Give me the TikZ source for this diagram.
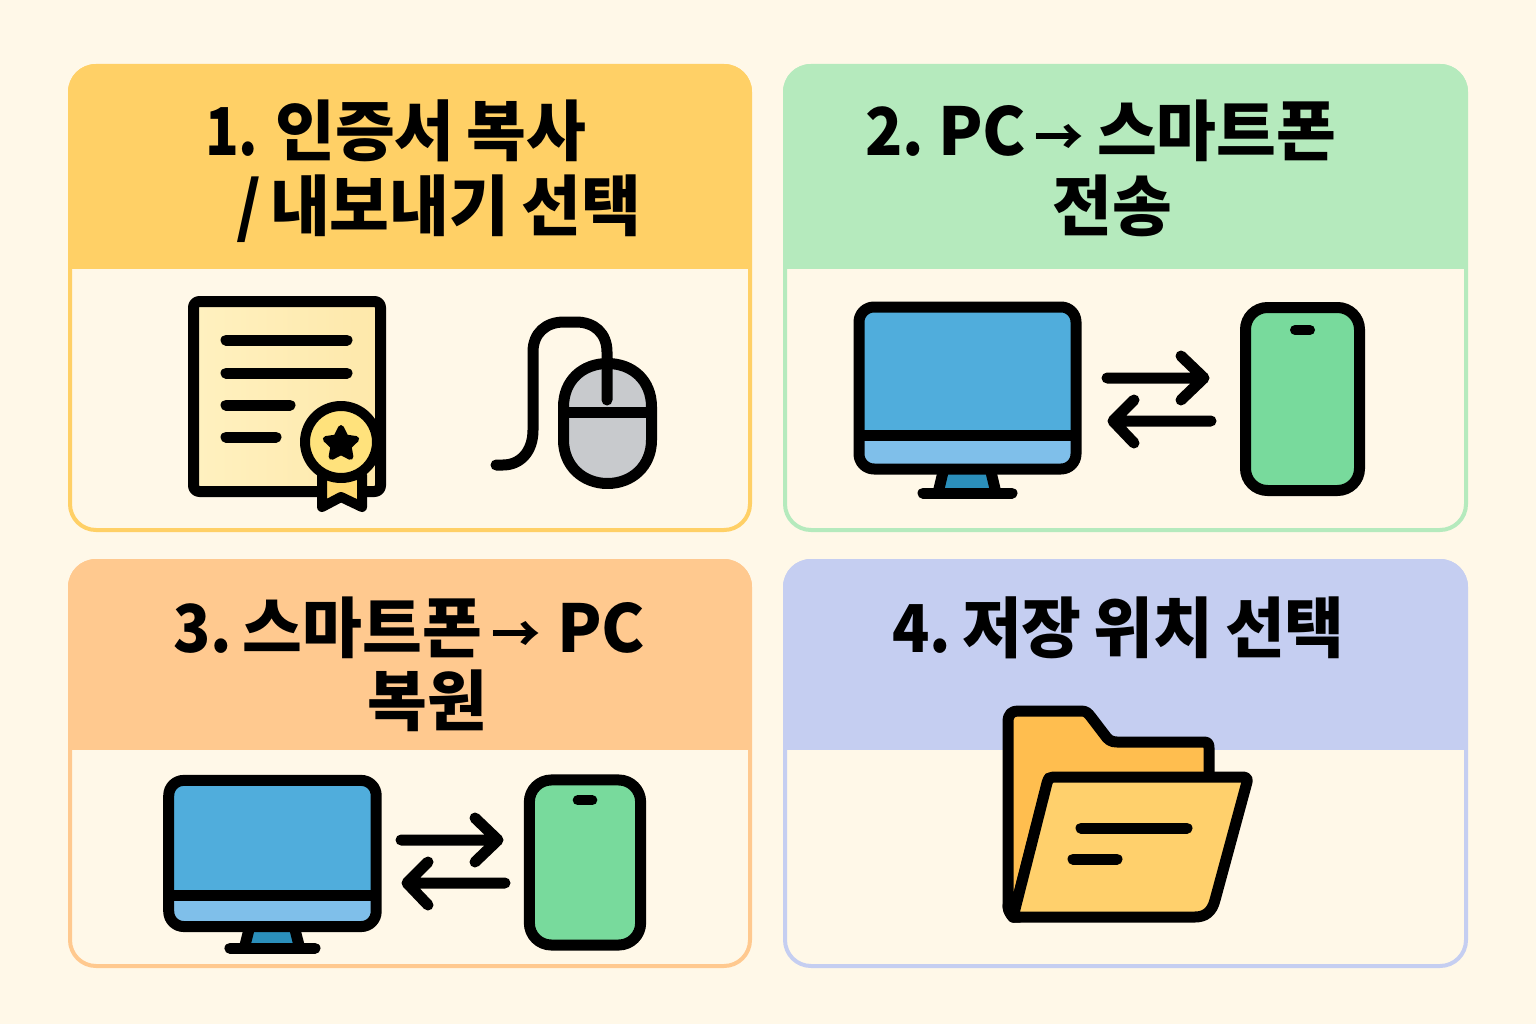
\documentclass[tikz,border=0pt]{standalone}
\usepackage{fontspec}
\newfontfamily\krfont[FakeStretch=0.985,WordSpace=0.8]{Noto Sans CJK KR Black}
\newfontfamily\numfont[FakeStretch=0.84,WordSpace=0.8]{Noto Sans CJK KR Black}
\newfontfamily\numwide[FakeStretch=0.93,WordSpace=0.65]{Noto Sans CJK KR Black}
\definecolor{bg}{HTML}{FFF8E8}
\definecolor{hyellow}{HTML}{FFD066}
\definecolor{hgreen}{HTML}{B5EABD}
\definecolor{horange}{HTML}{FFC98F}
\definecolor{hblue}{HTML}{C5CEF1}
\definecolor{screenblue}{HTML}{50ADDC}
\definecolor{lowerblue}{HTML}{7FBFEA}
\definecolor{standblue}{HTML}{2B8FBB}
\definecolor{phonegreen}{HTML}{78DA9C}
\definecolor{mousegray}{HTML}{C8CACD}
\definecolor{folderback}{HTML}{FFBE4F}
\definecolor{folderfront}{HTML}{FFD06C}
\definecolor{certa}{HTML}{FFF1C0}
\definecolor{certb}{HTML}{FEE8AA}
\definecolor{sealfill}{HTML}{FFE27C}
\definecolor{ribbon}{HTML}{FFD970}
\newcommand{\tarrow}{\kern-3pt{\fontsize{50pt}{50pt}\selectfont →}\kern1pt}
\tikzset{
  ink/.style={draw=black,line width=11pt,line cap=round,line join=round},
  title/.style={anchor=base west,inner sep=0pt,font=\krfont\fontsize{66pt}{66pt}\selectfont,text=black},
}
\newcommand{\cardpanel}[6]{%
  \fill[bg,rounded corners=28pt] (#1,#2) rectangle (#3,#4);
  \begin{scope}
    \clip[rounded corners=28pt] (#1,#2) rectangle (#3,#4);
    \fill[#6] (#1,#2) rectangle (#3,#5);
  \end{scope}
  \draw[#6,line width=4pt,rounded corners=26pt] (#1+2,#2+2) rectangle (#3-2,#4-2);
}
\newcommand{\monitorico}{%
  \fill[screenblue,rounded corners=10pt] (859,307) rectangle (1076,440);
  \fill[lowerblue,rounded corners=10pt] (859,430) rectangle (1076,469);
  \fill[standblue] (943,472) -- (991,472) -- (996,493) -- (938,493) -- cycle;
  \draw[ink,line cap=butt] (943,472) -- (938,493) (991,472) -- (996,493);
  \draw[ink,line cap=butt] (859,435) -- (1076,435);
  \draw[ink,rounded corners=15pt] (859,307) rectangle (1076,469);
  \draw[ink] (923,493) -- (1012,493);
}
\newcommand{\phoneico}{%
  \draw[ink,fill=phonegreen,rounded corners=22pt] (1245.5,307.5) rectangle (1359.5,490.5);
  \draw[ink,line width=10pt] (1295,330) -- (1310,330);
}
\newcommand{\arrowsico}{%
  \draw[ink] (1107,378) -- (1203,378) (1181,356) -- (1204,378) -- (1181,400);
  \draw[ink] (1211,421) -- (1115,421) (1134,400) -- (1113,421) -- (1134,443);
}
\begin{document}
\begin{tikzpicture}[x=1pt,y=-1pt]
\useasboundingbox (0,0) rectangle (1536,1024);
\fill[bg] (0,0) rectangle (1536,1024);
\cardpanel{68}{64}{752}{532}{269}{hyellow}
\cardpanel{783}{64}{1468}{532}{269}{hgreen}
\cardpanel{68}{559}{752}{968}{750}{horange}
\cardpanel{783}{559}{1468}{968}{750}{hblue}
% titles
\node[title] (t1a) at (205,156) {{\numfont 1.} 인증서 복사};
\node[title] (t1b) at (236,231) {/\kern-3pt{} 내보내기 선택};
\node[title] (t2a) at (865,156) {{\numwide 2.}\kern-3pt{} PC \tarrow{} 스마트폰};
\node[title] (t2b) at (1052,231) {전송};
\node[title] (t3a) at (173,652) {{\numwide 3.}\kern-6pt{} 스마트폰 \tarrow{}\kern4pt{} PC};
\node[title] (t3b) at (367,725) {복원};
\node[title] (t4a) at (892,652) {{\numwide 4.}\kern-6pt{} 저장 위치 선택};
% certificate
\draw[ink,left color=certa,right color=certb,rounded corners=6pt] (193.5,301.5) rectangle (380.5,491.5);
\draw[ink] (226,340) -- (347,340);
\draw[ink] (226,373) -- (347,373);
\draw[ink] (226,405) -- (290,405);
\draw[ink] (226,437) -- (276,437);
\draw[ink,fill=ribbon,line width=10pt] (322,475) -- (322,507) -- (341,497) -- (362,507) -- (362,475) -- cycle;
\draw[ink,fill=sealfill,line width=10pt] (341,442) circle[radius=36pt];
\fill[black,draw=black,line width=6pt,line join=round,shift={(341,444)}]
  (0,-16) -- (4.7,-6.5) -- (15.2,-4.9) -- (7.6,2.5) -- (9.4,12.9) -- (0,8)
  -- (-9.4,12.9) -- (-7.6,2.5) -- (-15.2,-4.9) -- (-4.7,-6.5) -- cycle;
% mouse
\draw[ink,fill=mousegray] (563.5,407) .. controls (563.5,380) and (583,363.5) .. (607.5,363.5)
  .. controls (632,363.5) and (651.5,380) .. (651.5,407) -- (651.5,440)
  .. controls (651.5,466) and (632,483.5) .. (607.5,483.5)
  .. controls (583,483.5) and (563.5,466) .. (563.5,440) -- cycle;
\draw[ink,line cap=butt] (563.5,412) -- (651.5,412);
\draw[ink] (607,400) -- (607,352) .. controls (607,333) and (594,322) .. (576,322) -- (564,322)
  .. controls (546,322) and (533,333) .. (533,352) -- (533,430)
  .. controls (533,452) and (520,465) .. (503,465) -- (496,465);
% panel 2 icons
\monitorico
\arrowsico
\phoneico
% panel 3 icons
\begin{scope}[shift={(163,775)},xscale=0.956,yscale=0.902,shift={(-853,-301)}]
  \monitorico
\end{scope}
\begin{scope}[shift={(-706,462)}]
  \arrowsico
\end{scope}
\begin{scope}[shift={(524,775)},xscale=0.976,yscale=0.902,shift={(-1240,-302)}]
  \phoneico
\end{scope}
% folder
\draw[ink,fill=folderback] (1008,905) -- (1008,722) .. controls (1008,714) and (1012,711) .. (1018,711)
  -- (1081,711) .. controls (1086,711) and (1088,713) .. (1091,717) -- (1104,734)
  .. controls (1108,740) and (1111,742) .. (1117,742) -- (1204,742) .. controls (1208,742) and (1209,744) .. (1209,748) -- (1209,778) -- (1049,778) -- (1013,917)
  .. controls (1011,915) and (1008,911) .. (1008,905) -- cycle;
\draw[ink,fill=black,line join=round] (1008,905) .. controls (1008,913) and (1012,917) .. (1020,917) -- (1013,917) -- cycle;
\draw[ink,fill=folderfront] (1053,777) -- (1243,777) .. controls (1246,777) and (1248,779) .. (1247,782)
  -- (1215,900) .. controls (1212,912) and (1205,917) .. (1195,917) -- (1013,917)
  -- (1047,783) .. controls (1048,779) and (1050,777) .. (1053,777) -- cycle;
\draw[ink] (1081,828) -- (1187,828);
\draw[ink] (1073,859) -- (1117,859);
\end{tikzpicture}
\end{document}
